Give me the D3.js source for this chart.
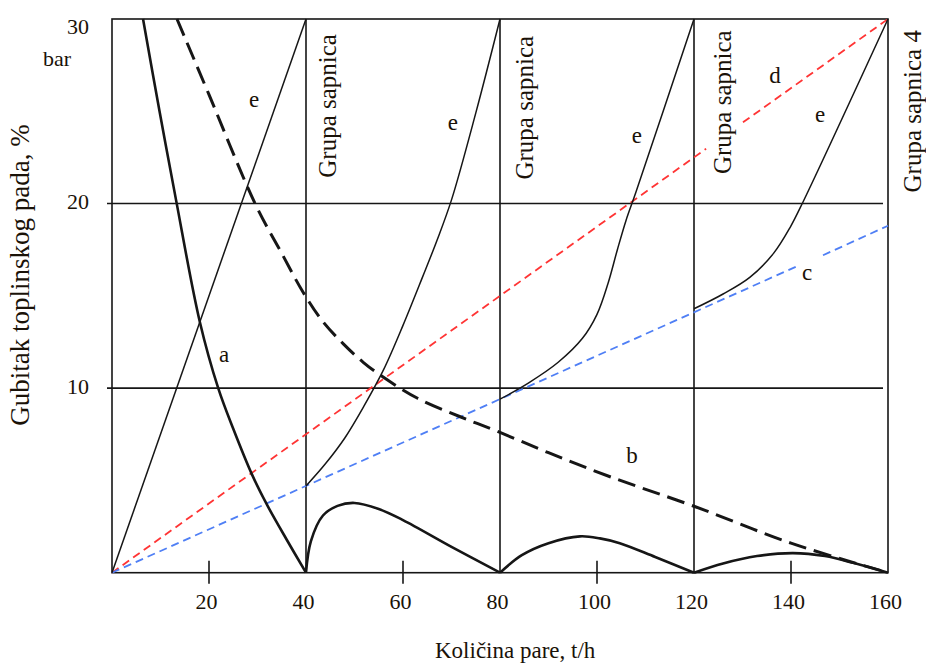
<!DOCTYPE html>
<html><head><meta charset="utf-8">
<script src="https://cdn.jsdelivr.net/npm/d3@7"></script>
<style>
body{margin:0;background:#fff}
svg{display:block}
text{font-family:"Liberation Serif","Times New Roman",serif;fill:#1a1208}
</style>
</head><body>
<svg id="chart" width="926" height="664"></svg>
<script>
// ---- data ----
const xTickLabels = [20, 40, 60, 80, 100, 120, 140, 160];
const xTickMarks = [20, 60, 100, 140];
const groupLines = [40, 80, 120];
const yTickLabels = [10, 20, 30];
const yGridLines = [10, 20];

// a: solid heavy curve
const curveA = [[6.4,30],[9.8,25],[13.2,20.2],[18.1,13.6],[21.9,10],[25,7.8],[28.9,5.3],[32,3.66],[36,1.8],[40,0]];
// bottom scallops (solid heavy)
const scallop1 = [[40,0],[41,1.7],[43.5,3.1],[46.5,3.62],[50,3.78],[55,3.45],[60,2.85],[70,1.4],[80,0]];
const scallop2 = [[80,0],[84.5,0.95],[90,1.6],[96.5,1.97],[100.6,1.86],[104.7,1.6],[112,0.85],[120,0]];
const scallop3 = [[120,0],[126,0.5],[133,0.9],[140.4,1.06],[147,0.9],[153,0.52],[160,0]];
// b: heavy dashed curve
const curveB = [[13.4,30],[20,25.9],[29.5,20],[35,17.3],[39.4,15.2],[43.5,13.6],[47.7,12.4],[51.8,11.4],[55.9,10.6],[63,9.45],[71.8,8.45],[80,7.6],[90,6.5],[102.7,5.2],[120,3.6],[140,1.6],[160,0]];
// c: blue dashed (interrupted by its label)
const lineC = [[[0,0],[141.2,16.6]], [[146.6,17.2],[160,18.8]]];
// d: red dashed (interrupted by a group label)
const lineD = [[[0,0],[122.5,22.97]], [[130.1,24.4],[160,30]]];
// e: thin solid curves
const curveE1 = [[0,0],[40,30]];
const curveE2 = [[40,4.7],[44,5.9],[48,7.3],[52,9.05],[56,11.0],[60,13.4],[64,16.0],[67,18.0],[70,20.2],[75,24.9],[80,30]];
const curveE3 = [[80,9.4],[86,10.3],[92,11.4],[97,12.7],[100,14],[102.3,15.7],[104.2,17.5],[106,19.1],[108,20.6],[120,30]];
const curveE4 = [[120,14.3],[126,15.1],[131.5,16.0],[136.4,17.3],[139.8,18.7],[142.5,20.1],[160,30]];

// curve letter labels (data coords, text baseline)
const curveLabels = [
  {t:"e", x:29.3, y:25.24}, {t:"e", x:70.3, y:24.0}, {t:"e", x:108.2, y:23.3}, {t:"e", x:146, y:24.4},
  {t:"a", x:23.1, y:11.42}, {t:"b", x:107.2, y:5.95}, {t:"c", x:143.3, y:15.87}, {t:"d", x:136.7, y:26.54}
];
const groupLabels = [
  {t:"Grupa sapnica", x:46.2, y:21.4},
  {t:"Grupa sapnica", x:86.8, y:21.3},
  {t:"Grupa sapnica", x:127.6, y:21.6},
  {t:"Grupa sapnica 4", x:166.9, y:20.6}
];
const xTitle = "Količina pare, t/h";
const yTitle = "Gubitak toplinskog pada, %";
const yUnit = "bar";

// ---- drawing ----
const svg = d3.select("#chart");
const x = d3.scaleLinear().domain([0,160]).range([112,888]);
const y = d3.scaleLinear().domain([0,30]).range([572.7,19]);
const ink = "#161616";

// frame & grid
const g = svg.append("g");
g.append("rect").attr("x",x(0)).attr("y",y(30)).attr("width",x(160)-x(0)).attr("height",y(0)-y(30))
  .attr("fill","none").attr("stroke",ink).attr("stroke-width",1.6);
g.selectAll(".hg").data(yGridLines).join("line")
  .attr("x1",x(0)-5).attr("x2",x(160)-5).attr("y1",d=>y(d)).attr("y2",d=>y(d))
  .attr("stroke",ink).attr("stroke-width",1.6);
g.selectAll(".vg").data(groupLines).join("line")
  .attr("x1",d=>x(d)).attr("x2",d=>x(d)).attr("y1",y(30)).attr("y2",y(0))
  .attr("stroke",ink).attr("stroke-width",1.6);
g.selectAll(".tm").data(xTickMarks).join("line")
  .attr("x1",d=>x(d)).attr("x2",d=>x(d)).attr("y1",y(0)-12).attr("y2",y(0)+11)
  .attr("stroke",ink).attr("stroke-width",1.6);

// x axis labels via d3 axis
const xAxis = svg.append("g").attr("transform",`translate(0,${y(0)})`)
  .call(d3.axisBottom(x).tickValues(xTickLabels).tickSize(0).tickPadding(0).tickFormat(d3.format("d")));
xAxis.select(".domain").remove();
xAxis.selectAll("text").attr("font-size",22).attr("dy",null).attr("y",36)
  .attr("fill","#1a1208").attr("transform","translate(-3,0)");

// y axis labels via d3 axis
const yAxis = svg.append("g").attr("transform",`translate(${x(0)},0)`)
  .call(d3.axisLeft(y).tickValues(yTickLabels).tickSize(0).tickPadding(0).tickFormat(d3.format("d")));
yAxis.select(".domain").remove();
yAxis.selectAll("text").attr("font-size",22).attr("dy",null).attr("x",-23)
  .attr("y",d=> d===30 ? 14 : 5).attr("dominant-baseline","auto")
  .attr("fill","#1a1208");

svg.append("text").attr("x",43).attr("y",66).attr("font-size",22).text(yUnit);

// curves
const line = d3.line().x(d=>x(d[0])).y(d=>y(d[1])).curve(d3.curveCatmullRom.alpha(0.5));
const straight = d3.line().x(d=>x(d[0])).y(d=>y(d[1]));
const curves = svg.append("g").attr("fill","none").attr("stroke-linejoin","round");

lineD.forEach(s=>curves.append("path").attr("d",straight(s)).attr("stroke","#ff3434").attr("stroke-width",1.8).attr("stroke-dasharray","8,5"));
lineC.forEach(s=>curves.append("path").attr("d",straight(s)).attr("stroke","#4f7ff5").attr("stroke-width",1.8).attr("stroke-dasharray","8,5"));

[curveE1, curveE2, curveE3, curveE4].forEach(s=>curves.append("path").attr("d",line(s)).attr("stroke",ink).attr("stroke-width",1.5));

curves.append("path").attr("d",line(curveB)).attr("stroke",ink).attr("stroke-width",3).attr("stroke-dasharray","18,8");
[curveA, scallop1, scallop2, scallop3].forEach(s=>curves.append("path").attr("d",line(s)).attr("stroke",ink).attr("stroke-width",2.6));

// labels
svg.selectAll(".cl").data(curveLabels).join("text")
  .attr("x",d=>x(d.x)).attr("y",d=>y(d.y)).attr("text-anchor","middle").attr("font-size",23).text(d=>d.t);

svg.selectAll(".gl").data(groupLabels).join("text")
  .attr("transform",d=>`translate(${x(d.x)},${y(d.y)}) rotate(-90)`)
  .attr("font-size",25).text(d=>d.t);

svg.append("text").attr("x",435).attr("y",658).attr("font-size",23).text(xTitle);
svg.append("text").attr("transform","translate(29,275) rotate(-90)").attr("text-anchor","middle").attr("font-size",27).text(yTitle);
</script>
</body></html>
